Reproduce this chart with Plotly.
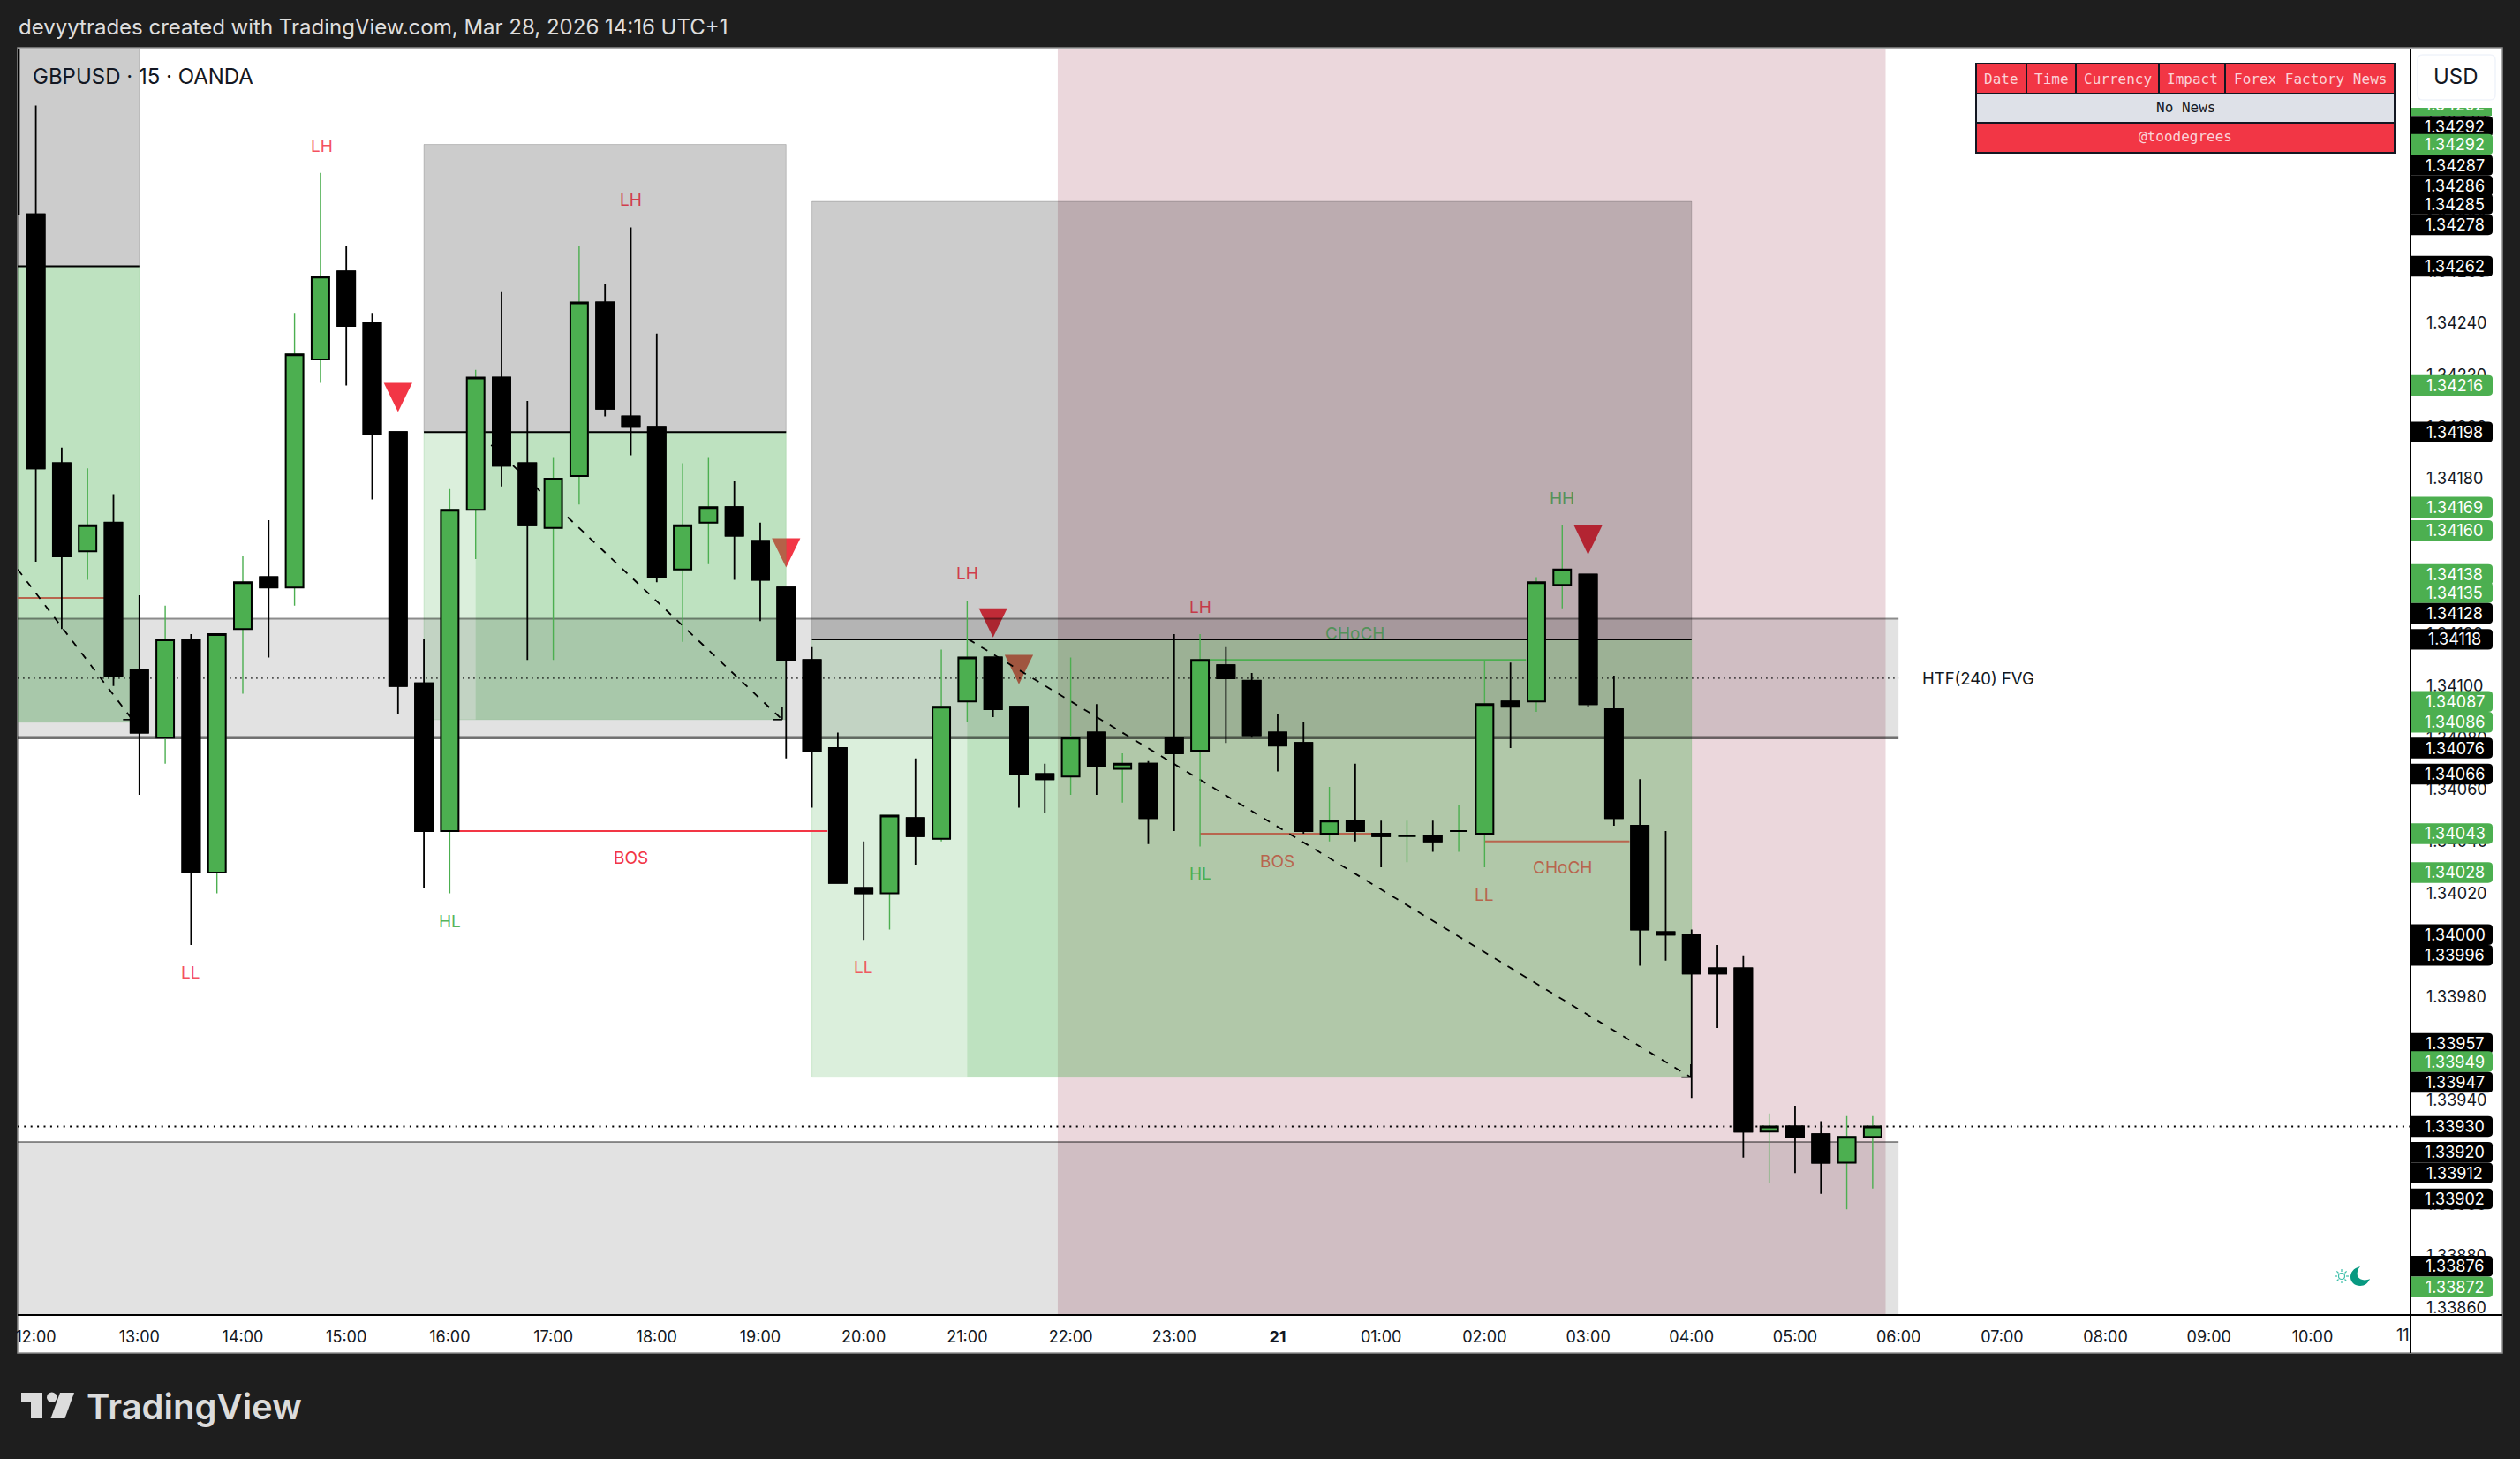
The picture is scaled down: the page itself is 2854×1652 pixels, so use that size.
import plotly.graph_objects as go

# ---------- data ----------
candle_index = list(range(-1, 72))
open_ = [1.34360,1.34282,1.34186,1.34152,1.34163,1.34106,1.34080,1.34118,1.34028,1.34122,1.34142,1.34138,1.34226,1.34260,1.34240,1.34198,1.34101,1.34044,1.34168,1.34219,1.34186,1.34161,1.34181,1.34248,1.34204,1.34200,1.34145,1.34163,1.34169,1.34156,1.34138,1.34110,1.34076,1.34022,1.34020,1.34049,1.34041,1.34094,1.34111,1.34092,1.34066,1.34065,1.34082,1.34068,1.34070,1.34080,1.34075,1.34108,1.34102,1.34082,1.34078,1.34043,1.34048,1.34043,1.34042,1.34042,1.34044,1.34043,1.34094,1.34094,1.34139,1.34143,1.34091,1.34046,1.34005,1.34004,1.33991,1.33991,1.33928,1.33930,1.33927,1.33916,1.33926]
high = [1.34370,1.34324,1.34192,1.34184,1.34174,1.34135,1.34131,1.34120,1.34120,1.34150,1.34164,1.34244,1.34298,1.34270,1.34244,1.34198,1.34118,1.34176,1.34222,1.34252,1.34210,1.34188,1.34270,1.34255,1.34277,1.34236,1.34186,1.34188,1.34179,1.34163,1.34138,1.34115,1.34082,1.34040,1.34050,1.34072,1.34114,1.34133,1.34111,1.34092,1.34070,1.34111,1.34093,1.34074,1.34071,1.34120,1.34120,1.34115,1.34105,1.34089,1.34086,1.34061,1.34070,1.34048,1.34048,1.34048,1.34054,1.34110,1.34109,1.34142,1.34162,1.34143,1.34104,1.34064,1.34044,1.34006,1.34000,1.33996,1.33935,1.33938,1.33932,1.33934,1.33934]
low = [1.34282,1.34148,1.34122,1.34141,1.34100,1.34058,1.34070,1.34000,1.34020,1.34097,1.34111,1.34131,1.34217,1.34216,1.34172,1.34089,1.34022,1.34020,1.34149,1.34177,1.34110,1.34110,1.34170,1.34204,1.34189,1.34140,1.34117,1.34147,1.34141,1.34125,1.34072,1.34053,1.34024,1.34002,1.34006,1.34031,1.34040,1.34086,1.34088,1.34053,1.34051,1.34058,1.34058,1.34055,1.34039,1.34044,1.34038,1.34078,1.34080,1.34067,1.34043,1.34040,1.34040,1.34030,1.34032,1.34036,1.34036,1.34030,1.34076,1.34090,1.34130,1.34092,1.34046,1.33992,1.33994,1.33941,1.33968,1.33918,1.33908,1.33912,1.33904,1.33898,1.33906]
close = [1.34282,1.34184,1.34150,1.34162,1.34104,1.34082,1.34118,1.34028,1.34120,1.34140,1.34138,1.34228,1.34258,1.34239,1.34197,1.34100,1.34044,1.34168,1.34219,1.34185,1.34162,1.34180,1.34248,1.34207,1.34200,1.34142,1.34162,1.34169,1.34158,1.34141,1.34110,1.34075,1.34024,1.34020,1.34050,1.34042,1.34092,1.34111,1.34091,1.34066,1.34064,1.34080,1.34069,1.34070,1.34049,1.34074,1.34110,1.34103,1.34081,1.34077,1.34044,1.34048,1.34044,1.34042,1.34042,1.34040,1.34044,1.34093,1.34092,1.34140,1.34145,1.34093,1.34049,1.34006,1.34004,1.33989,1.33989,1.33928,1.33930,1.33926,1.33916,1.33926,1.33930]

x_tick_index = list(range(0, 92, 4))
x_tick_text = ["12:00","13:00","14:00","15:00","16:00","17:00","18:00","19:00","20:00","21:00","22:00","23:00","<b>21</b>","01:00","02:00","03:00","04:00","05:00","06:00","07:00","08:00","09:00","10:00"]
y_tick_vals = [1.33860 + 0.0002 * k for k in range(25)]

tag_text = ["1.34292","1.34292","1.34287","1.34286","1.34285","1.34278","1.34262","1.34216","1.34198","1.34169","1.34160","1.34138","1.34135","1.34128","1.34118","1.34087","1.34086","1.34076","1.34066","1.34043","1.34028","1.34000","1.33996","1.33957","1.33949","1.33947","1.33930","1.33920","1.33912","1.33902","1.33876","1.33872"]
tag_pos = [1.34316,1.34309,1.34301,1.34293,1.34286,1.34278,1.34262,1.34216,1.34198,1.34169,1.34160,1.34143,1.34136,1.34128,1.34118,1.34094,1.34086,1.34076,1.34066,1.34043,1.34028,1.34004,1.33996,1.33962,1.33955,1.33947,1.33930,1.33920,1.33912,1.33902,1.33876,1.33868]
tag_kind = ["k","g","k","k","k","k","k","g","k","g","g","g","g","k","k","g","g","k","k","g","g","k","k","k","g","k","k","k","k","k","k","g"]

# zones: left, right, grey top, split line, green bottom, inner green left
zone_left = [-5, 15, 30]
zone_right = [4, 29, 64]
zone_top = [1.34400, 1.34309, 1.34287]
zone_mid = [1.34262, 1.34198, 1.34118]
zone_bottom = [1.34086, 1.34087, 1.33949]
zone_inner_left = [-5, 17, 36]
session_x = [39.5, 71.5]
fvg_x = [-5, 72]
fvg_top, fvg_mid, fvg_bottom = 1.34126, 1.34103, 1.34080
lower_box_top, lower_box_bottom = 1.33924, 1.33800
last_price = 1.33930

tri_x = [14, 29, 37, 38, 60]
tri_top = [1.34217, 1.34157, 1.34130, 1.34112, 1.34162]

arrow_x0 = [-0.7, 17.6, 36.05]
arrow_y0 = [1.34145, 1.34193, 1.34118]
arrow_x1 = [3.73, 28.85, 63.97]
arrow_y1 = [1.34087, 1.34087, 1.33949]

level_x0 = [-5, 16, 45, 45, 56]
level_x1 = [2.8, 30.6, 57.6, 52, 61.6]
level_y = [1.34134, 1.34044, 1.34110, 1.34043, 1.34040]
level_col = ["#b8654e", "#f23645", "#4caf50", "#b8654e", "#b8654e"]

label_text = ["LH","LH","LL","HL","BOS","LL","LH","LH","CHoCH","HL","BOS","LL","CHoCH","HH"]
label_x = [11.04, 23, 6, 16, 23, 32, 36, 45, 51, 45, 48, 56, 59, 59]
label_y = [1.343085, 1.342874, 1.339894, 1.34009, 1.340337, 1.339915, 1.341435, 1.341304, 1.341203, 1.340276, 1.340324, 1.340192, 1.340297, 1.341722]
label_col = ["#f4515f","#d13d4c","#f4515f","#58b45c","#f23645","#ee5b60","#d13d4c","#c53a48","#54925a","#4caf50","#b8654e","#b8654e","#b8654e","#54925a"]

table_header = ["Date", "Time", "Currency", "Impact", "Forex Factory News"]

# ---------- helpers ----------
GREEN, RED, DARK = "#4caf50", "#f23645", "#1e1e1e"
L, R, T, B = 20, 2730, 55, 1489
fx = lambda x: (x - L) / (R - L)
fy = lambda y: (B - y) / (B - T)
FONT = "Inter"


def pline(x0, y0, x1, y1, color, width=2, dash="solid", layer="below"):
    return dict(type="line", xref="x", yref="y", x0=x0, y0=y0, x1=x1, y1=y1, layer=layer,
                line=dict(color=color, width=width, dash=dash))


def prect(x0, y0, x1, y1, fill, line=None, layer="below"):
    return dict(type="rect", xref="x", yref="y", x0=x0, y0=y0, x1=x1, y1=y1, layer=layer, fillcolor=fill,
                line=dict(color=line or "rgba(0,0,0,0)", width=1 if line else 0))


def srect(x0, y0, x1, y1, fill, line=None, lw=1, layer="above"):
    return dict(type="rect", xref="paper", yref="paper", x0=fx(x0), x1=fx(x1), y0=fy(y1), y1=fy(y0), layer=layer,
                fillcolor=fill, line=dict(color=line or "rgba(0,0,0,0)", width=lw if line else 0))


def spath(points, fill, line=None, lw=1, layer="above"):
    out = []
    for p in points:
        cmd, vals = p[0], p[1:]
        coords = [f"{fx(vals[i])},{fy(vals[i + 1])}" for i in range(0, len(vals), 2)]
        out.append(cmd + " ".join(coords))
    return dict(type="path", xref="paper", yref="paper", path=" ".join(out) + " Z", layer=layer, fillcolor=fill,
                line=dict(color=line or "rgba(0,0,0,0)", width=lw if line else 0))


def note(text, x, y, size=16, color="#131722", xanchor="center", weight=None, font=FONT, **kw):
    f = dict(size=size, color=color, family=font)
    if weight:
        f["weight"] = weight
    return dict(text=text, xref="paper", yref="paper", x=fx(x), y=fy(y), showarrow=False, xanchor=xanchor,
                yanchor="middle", font=f, borderpad=0, **kw)


fig = go.Figure()
# wicks
for up in (True, False):
    idx = [i for i in range(len(close)) if (close[i] >= open_[i]) == up]
    col = GREEN if up else "#000000"
    fig.add_trace(go.Candlestick(
        x=[candle_index[i] for i in idx], open=[open_[i] for i in idx], high=[high[i] for i in idx],
        low=[low[i] for i in idx], close=[close[i] for i in idx],
        increasing=dict(line=dict(color=col, width=1.4 if up else 1.8), fillcolor=col),
        decreasing=dict(line=dict(color=col, width=1.4 if up else 1.8), fillcolor=col),
        hoverinfo="skip", showlegend=False, whiskerwidth=0))
# bodies
body_hi = [max(a, b) for a, b in zip(open_, close)]
body_lo = [min(a, b) for a, b in zip(open_, close)]
fig.add_trace(go.Candlestick(
    x=candle_index, open=open_, high=body_hi, low=body_lo, close=close,
    increasing=dict(line=dict(color="#000000", width=2), fillcolor=GREEN),
    decreasing=dict(line=dict(color="#000000", width=2), fillcolor="#000000"),
    hoverinfo="skip", showlegend=False, whiskerwidth=0))

shapes = []
# white panel
shapes.append(srect(L, T - 1, 2834, 1532, "#ffffff", "#8e8e8e", 1.5, layer="below"))
# triangles sit under the zones so the zones tint them
for tx, ty in zip(tri_x, tri_top):
    shapes.append(dict(type="path", xref="x", yref="y", layer="below", fillcolor=RED, line=dict(width=0),
                       path=f"M{tx - 0.55},{ty} L{tx + 0.55},{ty} L{tx},{ty - 0.000113} Z"))
# session
shapes.append(prect(session_x[0], 1.3300, session_x[1], 1.3500, "rgba(128,0,32,0.157)"))
# zones
for a, b, ia, t, m, bt in zip(zone_left, zone_right, zone_inner_left, zone_top, zone_mid, zone_bottom):
    shapes.append(prect(a, m, b, t, "rgba(0,0,0,0.2)", "rgba(0,0,0,0.18)"))
    shapes.append(prect(a, bt, b, m, "rgba(76,175,80,0.2)", "rgba(76,175,80,0.2)"))
    shapes.append(prect(ia, bt, b, m, "rgba(76,175,80,0.2)"))
    shapes.append(pline(a, m, b, m, "#000000", 2))
# fvg + lower box
shapes.append(prect(fvg_x[0], fvg_bottom, fvg_x[1], fvg_top, "rgba(0,0,0,0.115)"))
shapes.append(pline(fvg_x[0], fvg_top, fvg_x[1], fvg_top, "rgba(0,0,0,0.42)", 2))
shapes.append(pline(fvg_x[0], fvg_bottom, fvg_x[1], fvg_bottom, "rgba(0,0,0,0.55)", 3.5))
shapes.append(pline(fvg_x[0], fvg_mid, fvg_x[1], fvg_mid, "rgba(0,0,0,0.7)", 1.6, "1.6px,4.4px"))
shapes.append(prect(fvg_x[0], lower_box_bottom, fvg_x[1], lower_box_top, "rgba(0,0,0,0.115)"))
shapes.append(pline(fvg_x[0], lower_box_top, fvg_x[1], lower_box_top, "rgba(0,0,0,0.42)", 2))
# levels
for a, b, y, c in zip(level_x0, level_x1, level_y, level_col):
    shapes.append(pline(a, y, b, y, c, 2))
# last price
shapes.append(pline(-5, last_price, 100, last_price, "#000000", 2, "2px,5.4px"))
# dashed arrows
for a, b, c, d in zip(arrow_x0, arrow_y0, arrow_x1, arrow_y1):
    shapes.append(pline(a, b, c, d, "#000000", 1.8, "8px,9px"))
    shapes.append(pline(c - 0.36, d, c, d, "#000000", 1.6))
    shapes.append(pline(c, d + 0.00005, c, d, "#000000", 1.6))

annotations = []
for t, x, y, c in zip(label_text, label_x, label_y, label_col):
    annotations.append(dict(text=t, xref="x", yref="y", x=x, y=y, showarrow=False, xanchor="center",
                            font=dict(size=19, color=c, family=FONT)))
annotations.append(dict(text="HTF(240) FVG", xref="x", yref="y", x=72.85, y=fvg_mid, xanchor="left", showarrow=False,
                        font=dict(size=18.5, color="#131722", family=FONT)))

# top strip tag clipped by the USD area
shapes.append(srect(R, 122, 2822, 131, GREEN))
annotations.append(note("1.34292", 2780, 125.5, size=18, color="#ffffff", height=7, valign="bottom"))

# price tags
for txt, pos, kind in zip(tag_text, tag_pos, tag_kind):
    fill = GREEN if kind == "g" else "#000000"
    h = 0.000040
    x0, x1, xc, xr = fx(R), fx(2823), fx(2818), fx(2823)
    shapes.append(dict(type="path", xref="paper", yref="y", layer="above", fillcolor=fill, line=dict(width=0),
                       path=f"M{x0},{pos - h} L{xc},{pos - h} Q{xr},{pos - h} {xr},{pos - h + 0.000014} "
                            f"L{xr},{pos + h - 0.000014} Q{xr},{pos + h} {xc},{pos + h} L{x0},{pos + h} Z"))
    annotations.append(dict(text=txt, xref="paper", yref="y", x=fx(2780), y=pos, showarrow=False, xanchor="center",
                            font=dict(size=18, color="#ffffff", family=FONT)))

# USD button
shapes.append(srect(2732, T, 2833, 122, "#ffffff"))
shapes.append(dict(type="path", xref="paper", yref="paper", layer="above", fillcolor="#ffffff",
                   line=dict(color="#f0f3fa", width=1.5),
                   path=" ".join([
                       f"M{fx(2744)},{fy(62)}", f"L{fx(2820)},{fy(62)}", f"Q{fx(2826)},{fy(62)} {fx(2826)},{fy(68)}",
                       f"L{fx(2826)},{fy(107)}", f"Q{fx(2826)},{fy(113)} {fx(2820)},{fy(113)}",
                       f"L{fx(2744)},{fy(113)}", f"Q{fx(2738)},{fy(113)} {fx(2738)},{fy(107)}",
                       f"L{fx(2738)},{fy(68)}", f"Q{fx(2738)},{fy(62)} {fx(2744)},{fy(62)}", "Z"])))
annotations.append(note("USD", 2781, 87, size=24))

# axes frame
shapes.append(dict(type="line", xref="paper", yref="paper", layer="above", x0=fx(R), x1=fx(R), y0=fy(T), y1=fy(1532),
                   line=dict(color="#000000", width=2)))
shapes.append(dict(type="line", xref="paper", yref="paper", layer="above", x0=fx(L), x1=fx(2834), y0=fy(B), y1=fy(B),
                   line=dict(color="#000000", width=2)))

# news table
col_edges = [2238, 2295, 2351, 2445, 2520, 2712]
rows = [72, 106, 139, 173]
TB = "#131722"
shapes.append(srect(col_edges[0], rows[0], col_edges[-1], rows[3], RED, TB, 2))
shapes.append(srect(col_edges[0], rows[1], col_edges[-1], rows[2], "#dee1e8", TB, 2))
for e in col_edges[1:-1]:
    shapes.append(dict(type="line", xref="paper", yref="paper", layer="above", x0=fx(e), x1=fx(e), y0=fy(rows[0]), y1=fy(rows[1]),
                       line=dict(color=TB, width=2)))
MONO = "DejaVu Sans Mono"
for h, a, b in zip(table_header, col_edges[:-1], col_edges[1:]):
    annotations.append(note(h, (a + b) / 2, 89, size=16, color="#fbd3d7", font=MONO))
annotations.append(note("No News", 2475, 122, size=16, color="#131722", font=MONO))
annotations.append(note("@toodegrees", 2475, 155, size=16, color="#fbd3d7", font=MONO))

# titles
annotations.append(note("devyytrades created with TradingView.com, Mar 28, 2026 14:16 UTC+1", 20, 31, size=24,
                        color="#dedede", xanchor="left"))
annotations.append(note("GBPUSD · 15 · OANDA", 36, 86, size=24, color="#131722", xanchor="left"))
annotations.append(note("11", 2730, 1511, size=18, xanchor="right"))

# TradingView logo
LOGO = "#dcdcdc"
shapes.append(spath([("M", 24, 1577), ("L", 48, 1577), ("L", 48, 1606), ("L", 35, 1606), ("L", 35, 1588), ("L", 24, 1588)], LOGO, layer="below"))
shapes.append(dict(type="circle", xref="paper", yref="paper", layer="below", x0=fx(53), x1=fx(64.5), y0=fy(1588), y1=fy(1576.5),
                   fillcolor=LOGO, line=dict(width=0)))
shapes.append(spath([("M", 68, 1577), ("L", 84, 1577), ("L", 73.5, 1606), ("L", 57.5, 1606)], LOGO, layer="below"))
annotations.append(note("TradingView", 97, 1592, size=40, color=LOGO, xanchor="left", weight=600))

# moon + sun
shapes.append(spath([("M", 2673, 1434), ("C", 2665, 1436, 2662, 1441, 2662, 1446), ("C", 2662, 1452, 2667, 1456, 2673, 1456),
                     ("C", 2678, 1456, 2682, 1453, 2684, 1448), ("C", 2678, 1451, 2672, 1449, 2670, 1445),
                     ("C", 2669, 1441, 2670, 1437, 2673, 1434)], "#089981"))
SUN = "#3dbfa9"
sx, sy = 2652, 1445
shapes.append(dict(type="circle", xref="paper", yref="paper", layer="above", x0=fx(sx - 3.5), x1=fx(sx + 3.5), y0=fy(sy + 3.5), y1=fy(sy - 3.5),
                   fillcolor="rgba(0,0,0,0)", line=dict(color=SUN, width=1.2)))
for (d1, d2) in [(1, 0), (-1, 0), (0, 1), (0, -1), (.7, .7), (-.7, .7), (.7, -.7), (-.7, -.7)]:
    shapes.append(dict(type="line", xref="paper", yref="paper", layer="above", x0=fx(sx + d1 * 5), y0=fy(sy + d2 * 5),
                       x1=fx(sx + d1 * 8), y1=fy(sy + d2 * 8), line=dict(color=SUN, width=1.2)))

fig.update_layout(
    width=2854, height=1652, margin=dict(l=L, r=2854 - R, t=T, b=1652 - B, pad=0),
    paper_bgcolor=DARK, plot_bgcolor="rgba(0,0,0,0)", boxmode="overlay", boxgap=0.32, boxgroupgap=0, showlegend=False,
    shapes=shapes, annotations=annotations, hovermode=False, dragmode=False,
    xaxis=dict(range=[-0.703, 91.79], rangeslider=dict(visible=False), tickmode="array", tickvals=x_tick_index,
               ticktext=x_tick_text, showgrid=False, zeroline=False, showline=False, ticks="",
               ticklabelstandoff=12, tickfont=dict(size=18, color="#131722", family=FONT)),
    yaxis=dict(range=[1.338572, 1.34346], side="right", tickmode="array", tickvals=y_tick_vals, tickformat=".5f",
               showgrid=False, zeroline=False, showline=False, ticks="", ticklabelstandoff=17,
               tickfont=dict(size=18, color="#131722", family=FONT)),
)
fig.write_html("out.html", config=dict(displayModeBar=False),
               post_script="document.body.style.margin='0';document.body.style.overflow='hidden';")
